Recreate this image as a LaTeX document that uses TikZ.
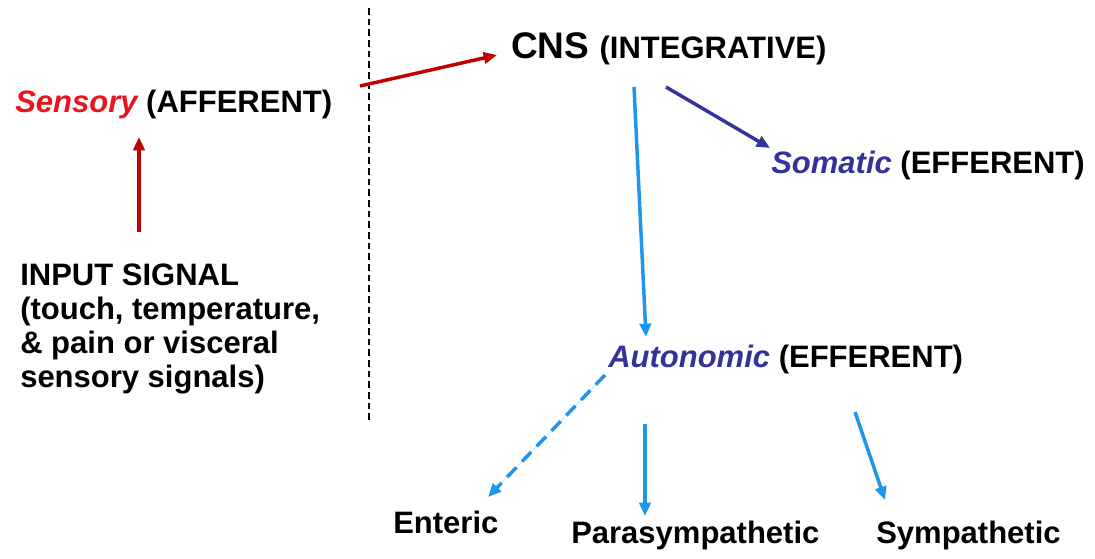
\documentclass[tikz,border=0pt]{standalone}
\usepackage{fontspec}
\setmainfont{Liberation Sans}
\usetikzlibrary{arrows.meta}
\definecolor{arrred}{RGB}{192,0,0}
\definecolor{txtred}{RGB}{232,20,30}
\definecolor{dkblue}{RGB}{51,51,153}
\definecolor{ltblue}{RGB}{30,150,238}
\tikzset{
  lbl/.style={inner sep=0pt, anchor=base west, font=\fontsize{23.25}{25.5}\selectfont\bfseries},
  big/.style={inner sep=0pt, anchor=base west, font=\fontsize{27.75}{30}\selectfont\bfseries},
  tipA/.style={-{Triangle[length=10pt,width=8.5pt]}},
  redarr/.style={tipA, draw=arrred, fill=arrred, line width=2.6pt},
  dkarr/.style={tipA, draw=dkblue, fill=dkblue, line width=2.6pt},
  ltarr/.style={tipA, draw=ltblue, fill=ltblue, line width=2.6pt},
  ltdash/.style={ltarr, dash pattern=on 10pt off 6pt},
  divider/.style={draw=black, line width=1.1pt, dash pattern=on 5pt off 3pt}
}
\begin{document}
\begin{tikzpicture}[x=0.75pt,y=-0.75pt]
\useasboundingbox[fill=white] (0,0) rectangle (1095,558);
% nodes
\node[lbl] (sensory) at (15,112) {\textcolor{txtred}{\itshape Sensory} (AFFERENT)};
\node[lbl, align=left] (input) at (20,387) {INPUT SIGNAL\\(touch, temperature,\\\& pain or visceral\\sensory signals)};
\node[big] (cns) at (511,58) {CNS \fontsize{23.25}{24.75}\selectfont(INTEGRATIVE)};
\node[lbl] (somatic) at (771,173) {\textcolor{dkblue}{\itshape Somatic} (EFFERENT)};
\node[lbl] (autonomic) at (608,367) {\textcolor{dkblue}{\itshape Autonomic} (EFFERENT)};
\node[lbl] (enteric) at (393,533) {Enteric};
\node[lbl] (para) at (571,543) {Parasympathetic};
\node[lbl] (symp) at (876,543) {Sympathetic};
% divider
\coordinate (divtop) at (369,8);
\coordinate (divbot) at (369,422);
\draw[divider] (divtop) -- (divbot);
% connectors
\draw[redarr] ([shift={(119,-155)}]input.base west) -- ([shift={(124,25)}]sensory.base west);
\draw[redarr] ([shift={(345,-26)}]sensory.base west) -- ([shift={(-14,-3)}]cns.base west);
\draw[dkarr] ([shift={(155,29)}]cns.base west) -- ([shift={(-1,-25)}]somatic.base west);
\draw[ltarr] ([shift={(123,29)}]cns.base west) -- ([shift={(38,-30)}]autonomic.base west);
\draw[ltdash] ([shift={(-3,8)}]autonomic.base west) -- ([shift={(95,-36)}]enteric.base west);
\draw[ltarr] ([shift={(74,-119)}]para.base west) -- ([shift={(74,-27)}]para.base west);
\draw[ltarr] ([shift={(247,45)}]autonomic.base west) -- ([shift={(9,-43)}]symp.base west);
\end{tikzpicture}
\end{document}
